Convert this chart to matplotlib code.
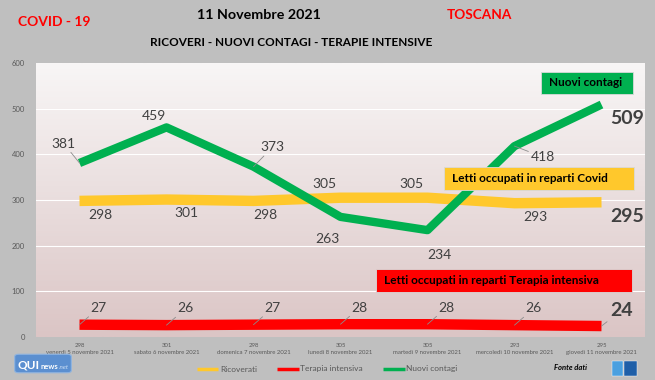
import numpy as np
import matplotlib.pyplot as plt
from matplotlib.colors import LinearSegmentedColormap
from matplotlib.patches import FancyBboxPatch, Rectangle
from matplotlib.text import Annotation

# dati
giorni = ['venerdì 5 novembre 2021', 'sabato 6 novembre 2021', 'domenica 7 novembre 2021',
          'lunedì 8 novembre 2021', 'martedì 9 novembre 2021', 'mercoledì 10 novembre 2021',
          'giovedì 11 novembre 2021']
ricoverati = [298, 301, 298, 305, 305, 293, 295]
terapia = [27, 26, 27, 28, 28, 26, 24]
contagi = [381, 459, 373, 263, 234, 418, 509]

plt.rcParams['font.family'] = ['Lato', 'DejaVu Sans']

fig = plt.figure(figsize=(6.55, 3.8), dpi=100, facecolor='#bfbfbf')
ax = fig.add_axes([36/655, 1-337/380, 609/655, 274/380])
x = np.arange(len(giorni))

# sfondo sfumato
cmap = LinearSegmentedColormap.from_list('bg', ['#dbc5c5', '#f8f6f6'])
ax.imshow(np.linspace(0, 1, 256).reshape(-1, 1), aspect='auto', cmap=cmap,
          extent=(-0.5, 6.5, 0, 600), origin='lower', zorder=0)
ax.set_xlim(-0.5, 6.5)
ax.set_ylim(0, 600)
for v in range(100, 600, 100):
    ax.axhline(v, color='white', lw=0.8, zorder=1)

ax.plot(x, ricoverati, color='#ffc82c', lw=7.5, solid_capstyle='butt', label='Ricoverati', zorder=2)
ax.plot(x, terapia, color='#ff0000', lw=7.5, solid_capstyle='butt', label='Terapia intensiva', zorder=2)
ax.plot(x, contagi, color='#00b050', lw=6, solid_capstyle='butt', label='Nuovi contagi', zorder=3)

for s in ax.spines.values():
    s.set_visible(False)
ax.tick_params(length=0, labelsize=5.5, labelcolor='#595959')
ax.set_yticks(range(0, 700, 100))
ax.set_xticks(x)
ax.set_xticklabels([f'{r}\n{g}' for r, g in zip(ricoverati, giorni)], fontsize=4.3, linespacing=1.5)
ax.tick_params(axis='x', pad=4)
ax.tick_params(axis='y', pad=8)

# etichette dati
lab = dict(fontsize=10, color='#404040', zorder=5)
lead = dict(arrowstyle='-', color='#8c8c8c', lw=0.6, shrinkA=0, shrinkB=0)
off_c = [(-20, 14), (-18, 8), (5, 14), (-18, -16), (0, -18), (12, -8), (0, 0)]
for i, v in enumerate(contagi[:-1]):
    ax.annotate(str(v), (x[i], v), xytext=off_c[i], textcoords='offset points',
                ha='left', va='center', arrowprops=lead if i in (0, 2, 5) else None, **lab)
ax.annotate(str(contagi[-1]), (x[-1], contagi[-1]), xytext=(6, -10), textcoords='offset points',
            ha='left', va='center', fontsize=14, fontweight='bold', color='#404040')
off_r = [(6, -10), (6, -10), (0, -10), (-20, 10), (-20, 10), (6, -10)]
for i, v in enumerate(ricoverati[:-1]):
    ax.annotate(str(v), (x[i], v), xytext=off_r[i], textcoords='offset points',
                ha='left', va='center', **lab)
ax.annotate(str(ricoverati[-1]), (x[-1], ricoverati[-1]), xytext=(6, -10), textcoords='offset points',
            ha='left', va='center', fontsize=14, fontweight='bold', color='#404040')
for i, v in enumerate(terapia[:-1]):
    ax.annotate(str(v), (x[i], v), xytext=(8, 12), textcoords='offset points',
                ha='left', va='center', arrowprops=lead, **lab)
ax.annotate(str(terapia[-1]), (x[-1], terapia[-1]), xytext=(6, 11), textcoords='offset points',
            ha='left', va='center', fontsize=14, fontweight='bold', color='#404040',
            arrowprops=lead)

# riquadri
def box(x0, y0, x1, y1, fc, txt):
    fig.patches.append(Rectangle((x0/655, 1-y1/380), (x1-x0)/655, (y1-y0)/380,
                                 transform=fig.transFigure, fc=fc, ec='#d9d9d9', lw=0.6, zorder=6))
    fig.text((x0+8)/655, 1-(y0+y1)/2/380, txt, fontsize=8.5, fontweight='bold',
             ha='left', va='center', zorder=7)

box(541, 72, 633, 94, '#00b050', 'Nuovi contagi')
box(444, 167, 634, 190, '#ffc82c', 'Letti occupati in reparti Covid')
box(376, 269, 632, 292, '#ff0000', 'Letti occupati in reparti Terapia intensiva')

# titoli
fig.text(54/655, 1-22/380, 'COVID - 19', color='#ff0000', fontsize=10, fontweight='bold',
         ha='center', va='center')
fig.text(259/655, 1-15/380, '11 Novembre 2021', fontsize=10.3, fontweight='bold',
         ha='center', va='center')
fig.text(291/655, 1-43/380, 'RICOVERI - NUOVI CONTAGI - TERAPIE INTENSIVE', fontsize=8.5,
         fontweight='bold', ha='center', va='center')
fig.text(479/655, 1-15/380, 'TOSCANA', color='#ff0000', fontsize=9.8, fontweight='bold',
         ha='center', va='center')

# legenda
fig.legend(loc='center', bbox_to_anchor=(327/655, 1-369/380), ncol=3, frameon=False,
           fontsize=6, labelcolor='#595959', handlelength=2.6, handletextpad=0.2,
           columnspacing=2.4, handleheight=0.5)
for h in fig.legends[0].legend_handles:
    h.set_linewidth(2.5)

# logo e fonte
fig.patches.append(FancyBboxPatch((16/655, 1-372/380), 54/655, 17/380,
                                  boxstyle='round,pad=0.002,rounding_size=0.006',
                                  transform=fig.transFigure, fc='#5b8fd0', ec='#8fb4e0', lw=0.8))
t1 = fig.text(18/655, 1-371/380, 'QUI', color='white', fontsize=8.5, fontweight='bold',
              va='bottom', zorder=5)
t2 = fig.add_artist(Annotation('news', xy=(1, 0.08), xycoords=t1, xytext=(0.5, 0),
                               textcoords='offset points', color='white', fontsize=5.5,
                               fontweight='bold', va='bottom', zorder=5))
fig.add_artist(Annotation('.net', xy=(1, 0.08), xycoords=t2, color='#cfe0f5', fontsize=4.5,
                          style='italic', va='bottom', zorder=5))
fig.text(570/655, 1-368/380, 'Fonte dati', fontsize=5.5, fontweight='bold', style='italic',
         ha='center', va='center')
fig.patches.append(Rectangle((612/655, 1-376/380), 11/655, 15/380, transform=fig.transFigure,
                             fc='#4aa0e0', ec='white', lw=0.3))
fig.patches.append(Rectangle((624/655, 1-376/380), 13/655, 15/380, transform=fig.transFigure,
                             fc='#1f5fa8', ec='white', lw=0.3))

plt.savefig('out.png', dpi=100, facecolor=fig.get_facecolor())
